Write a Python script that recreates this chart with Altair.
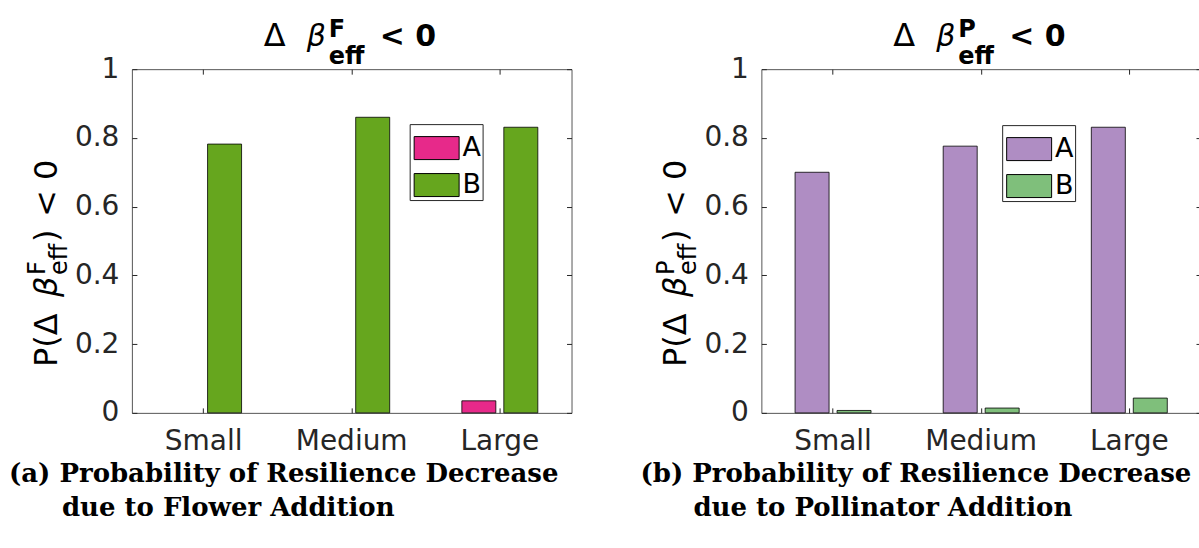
import altair as alt
import pandas as pd

# ---------------- data ----------------
categories = ["Small", "Medium", "Large"]
series = ["A", "B"]
flower_A = [0.0, 0.0, 0.035]
flower_B = [0.782, 0.860, 0.831]
poll_A = [0.700, 0.776, 0.831]
poll_B = [0.007, 0.014, 0.043]
flower_colors = ["#e7298a", "#66a61e"]
poll_colors = ["#af8dc3", "#7fbf7b"]
y_ticks = [0, 0.2, 0.4, 0.6, 0.8, 1]
captions_a = ["(a) Probability of Resilience Decrease", "due to Flower Addition"]
captions_b = ["(b) Probability of Resilience Decrease", "due to Pollinator Addition"]
sup_a, sup_b = "F", "P"

W, H = 440, 344
AX = "#262626"
FONT = "DejaVu Sans"
SERIF = "DejaVu Serif"


def txt(text, x, y, size, weight="normal", style="normal", angle=0,
        align="left", font=FONT, baseline="alphabetic"):
    return alt.Chart(pd.DataFrame({"t": [text]})).mark_text(
        font=font, fontSize=size, fontWeight=weight, fontStyle=style,
        angle=angle, align=align, baseline=baseline, color="black"
    ).encode(text="t:N", x=alt.value(x), y=alt.value(y))


def panel(vals_a, vals_b, colors, sup, caps, cap_x, leg_x, leg_y):
    df = pd.DataFrame({
        "cat": categories * 2,
        "series": [series[0]] * 3 + [series[1]] * 3,
        "p": vals_a + vals_b,
    })
    xscale = alt.Scale(paddingInner=0.032, paddingOuter=0)
    yscale = alt.Scale(domain=[0, 1], nice=False)
    offscale = alt.Scale(paddingInner=0.19, paddingOuter=0.803)

    bars = alt.Chart(df).transform_filter("datum.p > 0").mark_bar(
        stroke="black", strokeWidth=0.8).encode(
        x=alt.X("cat:N", sort=categories, scale=xscale, title=None,
                axis=alt.Axis(orient="bottom", labelAngle=0, tickSize={"expr": "-5"},
                              labelPadding=20, labelFontSize=28)),
        xOffset=alt.XOffset("series:N", scale=offscale),
        y=alt.Y("p:Q", scale=yscale, title=None,
                axis=alt.Axis(orient="left", values=y_ticks, format="~g",
                              tickSize={"expr": "-5"}, labelPadding=18, labelFontSize=28)),
        color=alt.Color("series:N", scale=alt.Scale(domain=series, range=colors),
                        legend=alt.Legend(
                            title=None, orient="none", legendX=leg_x, legendY=leg_y,
                            symbolType="M-1,-0.511H1V0.511H-1Z", symbolSize=2025,
                            symbolStrokeColor="black", symbolStrokeWidth=1, symbolOpacity=1,
                            symbolOffset=3,
                            labelFontSize=27, labelFont=FONT, labelColor="black",
                            labelOffset=3, labelExpr="datum.label + '\u2009'",
                            strokeColor=AX, fillColor="white",
                            padding=1, rowPadding=0)),
    )
    frame = alt.Chart(df).mark_bar(opacity=0).encode(
        x=alt.X("cat:N", sort=categories, scale=xscale, title=None,
                axis=alt.Axis(orient="top", labels=False, tickSize={"expr": "-5"})),
        xOffset=alt.XOffset("series:N", scale=offscale),
        y=alt.Y("p:Q", scale=yscale, title=None,
                axis=alt.Axis(orient="right", labels=False, values=y_ticks,
                              tickSize={"expr": "-5"})),
    )
    c = W / 2
    ttl = [
        txt("\u0394", c - 88, -23, 32),
        txt("\u03b2", c - 45, -23, 30, style="italic"),
        txt(sup, c - 23, -32, 24, weight="bold"),
        txt("eff", c - 23, -5, 24, weight="bold"),
        txt("< 0", c + 28, -23, 30, weight="bold"),
    ]
    yb = 298  # bottom start of rotated y label (text runs upward)
    ylab = [
        txt("P(\u0394", -75, yb, 32, angle=270),
        txt("\u03b2", -75, yb - 70, 32, style="italic", angle=270),
        txt(sup, -87, yb - 92, 24, angle=270),
        txt("eff", -65, yb - 92, 24, angle=270),
        txt(")", -75, yb - 125, 32, angle=270),
        txt("< 0", -75, yb - 150, 32, angle=270),
    ]
    capt = [
        txt(caps[0], cap_x, 413, 26, weight="bold", font=SERIF),
        txt(caps[1], cap_x + 53, 447, 26, weight="bold", font=SERIF),
    ]
    return alt.layer(bars, frame, *ttl, *ylab, *capt).resolve_axis(
        x="independent", y="independent").properties(width=W, height=H)


left = panel(flower_A, flower_B, flower_colors, sup_a, captions_a, -123, 278, 55)
right = panel(poll_A, poll_B, poll_colors, sup_b, captions_b, -121, 241, 56)

chart = alt.hconcat(left, right, spacing=190, bounds="flush").resolve_scale(
    color="independent").properties(
    padding={"left": 8, "top": 17, "right": -3, "bottom": 0},
    background="white",
).configure_view(stroke="#555555", strokeWidth=1).configure_axis(
    domain=False, grid=False, labelFont=FONT, labelColor=AX, tickColor=AX,
    tickWidth=1)

chart.save("out.html", embed_options={"renderer": "svg", "actions": False})
